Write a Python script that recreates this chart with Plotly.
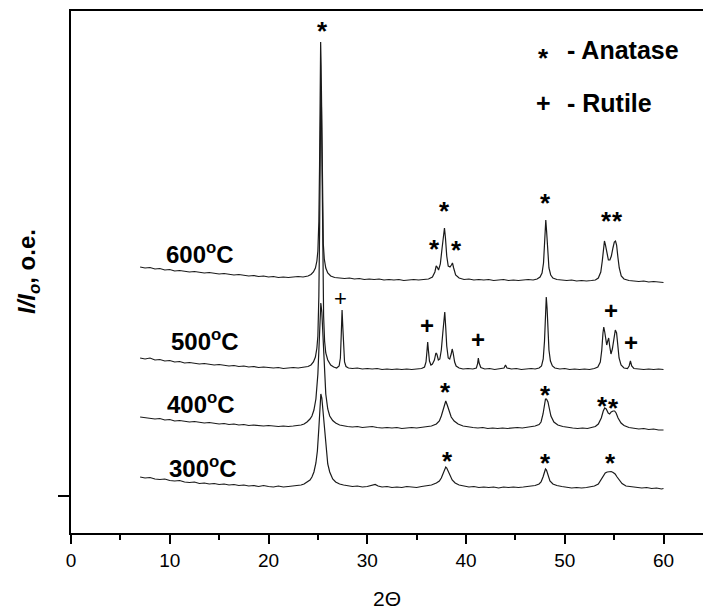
import plotly.graph_objects as go

# ---- data: (2Theta, intensity offset, arbitrary units) ----
pts300 = [(7.0,19),(7.5,18),(8.0,18.5),(8.5,17),(9.0,16.5),(9.5,17),(10.0,15.5),(10.5,15),(11.0,15.5),(11.5,14),(12.0,13.5),(12.5,14),(13.0,12.5),(13.5,13),(14.0,12),(14.5,12.5),(15.0,11.5),(15.5,12),(16.0,11),(16.5,11.5),(17.0,10.5),(17.5,11),(18.0,10),(18.5,10.5),(19.0,9.5),(19.5,10.5),(20.0,9.5),(20.5,9),(21.0,10),(21.5,9),(22.0,9.5),(22.5,10),(23.0,10.5),(23.3,11),(23.6,12),(23.9,14),(24.2,16),(24.4,19),(24.6,24),(24.8,33),(24.95,45),(25.1,68),(25.2,88),(25.3,102),(25.4,98),(25.5,87),(25.6,73),(25.8,48),(26.0,32),(26.2,24),(26.5,17),(26.8,14),(27.2,12),(27.6,11),(28.0,10.5),(28.5,9.5),(29.0,10),(29.5,9),(30.0,9.5),(30.5,10.5),(30.8,11.5),(31.1,10),(31.5,9),(32.0,9.5),(32.5,8.5),(33.0,9),(33.5,8.5),(34.0,9.5),(34.5,9),(35.0,8.5),(35.5,9.5),(36.0,10),(36.5,11),(37.0,13),(37.3,15),(37.5,18),(37.7,23),(37.85,27),(37.95,29),(38.05,28),(38.2,25),(38.4,20),(38.6,16),(38.9,13),(39.3,11),(39.8,10),(40.3,9),(40.8,9.5),(41.3,8.5),(41.8,9),(42.3,8.5),(42.8,9),(43.3,8),(43.8,9),(44.3,8.5),(44.8,9),(45.3,8.5),(45.8,9),(46.3,9.5),(46.7,10),(47.0,10.5),(47.4,12),(47.6,14),(47.8,19),(47.95,25),(48.05,27),(48.15,26),(48.3,21),(48.5,15),(48.8,12),(49.2,10.5),(49.7,9.5),(50.2,9),(50.7,8),(51.2,8.5),(51.7,8),(52.2,8.5),(52.7,9),(53.0,10),(53.4,12),(53.7,16.5),(53.9,20.5),(54.1,23),(54.3,24),(54.5,24),(54.7,24.5),(54.9,23.5),(55.1,22),(55.3,19),(55.5,16),(55.8,12.5),(56.2,10),(56.8,9),(57.3,8.5),(57.8,8),(58.3,8.5),(58.8,7.5),(59.3,8),(59.8,7),(60.0,7.5)]

pts400 = [(7.0,79),(7.5,78.5),(8.0,78),(8.5,77),(9.0,77.5),(9.5,76),(10.0,76.5),(10.5,75),(11.0,75.5),(11.5,74.5),(12.0,74),(12.5,74.5),(13.0,73.5),(13.5,73),(14.0,73.5),(14.5,72.5),(15.0,72),(15.5,72.5),(16.0,71.5),(16.5,72),(17.0,71),(17.5,71.5),(18.0,70.5),(18.5,71),(19.0,70.5),(19.5,70),(20.0,70.5),(20.5,70),(21.0,69.5),(21.5,70),(22.0,69.5),(22.5,70),(23.0,70.5),(23.3,71),(23.6,72),(23.9,74),(24.2,77),(24.4,80),(24.6,86),(24.8,97),(25.0,122),(25.1,148),(25.2,178),(25.3,193),(25.4,184),(25.5,160),(25.6,134),(25.8,102),(26.0,87),(26.2,80),(26.5,75.5),(26.8,73),(27.2,71),(27.6,70),(28.0,69.5),(28.5,69),(29.0,69.5),(29.5,68.5),(30.0,69),(30.5,69.5),(31.0,68.5),(31.5,68),(32.0,68.5),(32.5,68),(33.0,68.5),(33.5,67.5),(34.0,68),(34.5,68.5),(35.0,68),(35.5,68.5),(36.0,69),(36.5,70),(37.0,72),(37.3,75),(37.5,80),(37.7,88),(37.85,94),(37.95,95),(38.1,91),(38.3,84),(38.5,79),(38.8,75),(39.2,72),(39.7,70),(40.2,69),(40.7,68.5),(41.2,68),(41.7,68.5),(42.2,67.5),(42.7,68),(43.2,67.5),(43.7,68),(44.2,67.5),(44.7,68),(45.2,68.5),(45.7,68),(46.2,68.5),(46.6,69),(47.0,70),(47.4,71.5),(47.6,74),(47.8,82),(47.95,93),(48.05,97),(48.15,97),(48.3,94),(48.45,87),(48.6,80),(48.9,74),(49.3,71),(49.8,69.5),(50.3,68.5),(50.8,68),(51.3,67.5),(51.8,68),(52.3,67.5),(52.8,68.5),(53.1,69.5),(53.4,72),(53.7,78),(53.9,85),(54.05,88),(54.2,87),(54.4,83),(54.55,82),(54.7,84),(54.9,85),(55.05,85),(55.2,83),(55.4,78),(55.7,73),(56.0,70.5),(56.5,68.5),(57.0,67.5),(57.5,67),(58.0,67.5),(58.5,66.5),(59.0,67),(59.5,66),(60.0,66)]

pts500 = [(7.0,138),(7.5,137),(8.0,138),(8.5,136),(9.0,136.5),(9.5,135),(10.0,135.5),(10.5,134),(11.0,134.5),(11.5,133),(12.0,133.5),(12.5,132.5),(13.0,132),(13.5,132.5),(14.0,131.5),(14.5,131),(15.0,131.5),(15.5,130.5),(16.0,130),(16.5,130.5),(17.0,129.5),(17.5,130),(18.0,129),(18.5,129.5),(19.0,128.5),(19.5,129),(20.0,128.5),(20.5,128),(21.0,128.5),(21.5,127.5),(22.0,128),(22.5,128.5),(23.0,128),(23.5,128.5),(24.0,129.5),(24.3,131),(24.55,134),(24.75,139),(24.9,148),(25.0,160),(25.1,200),(25.18,270),(25.24,360),(25.3,410),(25.36,390),(25.43,310),(25.5,230),(25.58,180),(25.68,155),(25.8,143),(26.0,136),(26.3,131),(26.6,129),(26.9,128),(27.15,130),(27.28,138),(27.37,162),(27.45,186),(27.52,170),(27.6,146),(27.7,134),(27.85,129.5),(28.1,128),(28.5,127.5),(29.0,128),(29.5,127),(30.0,127.5),(30.5,127),(31.0,127.5),(31.5,126.5),(32.0,127),(32.5,126.5),(33.0,127),(33.5,126.5),(34.0,127),(34.5,126.5),(35.0,127),(35.5,127.5),(35.8,129),(35.95,134),(36.05,145),(36.12,154),(36.2,145),(36.3,135),(36.45,131),(36.6,132),(36.8,136),(36.95,143),(37.05,142),(37.2,136),(37.35,137),(37.5,146),(37.65,163),(37.78,182),(37.85,184),(37.95,168),(38.05,150),(38.2,138),(38.35,137),(38.5,142),(38.6,147),(38.7,143),(38.85,134),(39.0,130),(39.3,128),(39.7,127),(40.2,127.5),(40.7,127),(41.05,128),(41.17,132),(41.25,138),(41.33,133),(41.5,128.5),(41.9,127),(42.4,127.5),(42.9,126.5),(43.4,127),(43.85,128),(44.0,131),(44.15,128),(44.6,127),(45.1,127.5),(45.6,126.5),(46.1,127),(46.6,127.5),(47.0,127),(47.4,128),(47.65,130),(47.82,137),(47.95,155),(48.05,185),(48.13,199),(48.21,188),(48.3,165),(48.4,146),(48.55,135),(48.75,130),(49.0,128),(49.5,127),(50.0,127.5),(50.5,126.5),(51.0,127),(51.5,126.5),(52.0,127),(52.5,126.5),(53.0,127.5),(53.35,129),(53.6,134),(53.75,146),(53.87,163),(53.95,169),(54.05,164),(54.15,156),(54.25,151),(54.35,155),(54.45,158),(54.55,150),(54.68,142),(54.82,147),(54.97,159),(55.12,166),(55.25,163),(55.36,151),(55.5,138),(55.7,131),(56.0,128),(56.35,127.5),(56.52,130),(56.65,135),(56.78,130),(57.0,127.5),(57.5,127),(58.0,126.5),(58.5,127),(59.0,126.5),(59.5,127),(60.0,126.5)]

pts600 = [(7.0,229),(7.5,228),(8.0,228.5),(8.5,227),(9.0,227.5),(9.5,226),(10.0,226.5),(10.5,225),(11.0,225.5),(11.5,224.5),(12.0,224),(12.5,224.5),(13.0,223.5),(13.5,223),(14.0,223.5),(14.5,222.5),(15.0,222),(15.5,222.5),(16.0,221.5),(16.5,221),(17.0,221.5),(17.5,220.5),(18.0,220),(18.5,220.5),(19.0,219.5),(19.5,220),(20.0,219),(20.5,219.5),(21.0,218.5),(21.5,219),(22.0,218.5),(22.5,219),(23.0,219.5),(23.5,219),(24.0,220),(24.3,221.5),(24.55,224),(24.75,228),(24.9,235),(25.0,245),(25.1,275),(25.17,330),(25.23,410),(25.28,454),(25.33,430),(25.4,350),(25.47,285),(25.55,252),(25.65,237),(25.8,228),(26.0,223),(26.3,220),(26.7,218.5),(27.2,218),(27.7,217.5),(28.2,218),(28.7,217),(29.2,217.5),(29.7,216.5),(30.2,217),(30.7,216.5),(31.2,217),(31.7,216),(32.2,216.5),(32.7,216),(33.2,216.5),(33.7,215.5),(34.2,216),(34.7,216.5),(35.2,216),(35.7,216.5),(36.2,217),(36.6,219),(36.85,224),(36.98,230),(37.08,229),(37.22,226),(37.4,232),(37.58,248),(37.72,263),(37.82,268),(37.92,258),(38.05,240),(38.2,230),(38.38,229),(38.52,231),(38.63,233),(38.75,228),(38.95,221),(39.3,218),(39.8,216.5),(40.3,217),(40.8,216),(41.3,216.5),(41.8,216),(42.3,216.5),(42.8,215.5),(43.3,216),(43.8,216.5),(44.3,215.5),(44.8,216),(45.3,215.5),(45.8,216),(46.3,216.5),(46.8,216),(47.2,217),(47.5,219),(47.7,223),(47.85,233),(47.95,254),(48.03,272),(48.08,276),(48.16,265),(48.27,243),(48.4,228),(48.58,221),(48.8,218),(49.2,216.5),(49.7,216),(50.2,215.5),(50.7,216),(51.2,215),(51.7,215.5),(52.2,215),(52.7,215.5),(53.1,216),(53.4,218),(53.65,224),(53.8,235),(53.92,250),(54.02,255),(54.12,251),(54.27,241),(54.42,236),(54.57,236),(54.72,240),(54.88,248),(55.02,254),(55.14,255),(55.25,251),(55.38,239),(55.52,228),(55.72,220),(56.0,217),(56.5,215.5),(57.0,215),(57.5,214.5),(58.0,215),(58.5,214),(59.0,214.5),(59.5,214),(60.0,213.5)]

series_names = ["300°C", "400°C", "500°C", "600°C"]
series_pts = [pts300, pts400, pts500, pts600]

# temperature labels (text, x, y)
temp_labels = [("300<sup>o</sup>C", 13.37, 29), ("400<sup>o</sup>C", 13.16, 93),
               ("500<sup>o</sup>C", 13.57, 156), ("600<sup>o</sup>C", 13.06, 243)]

# phase markers
anatase_marks = [(25.42, 473), (36.76, 255), (37.87, 293), (38.99, 254), (48.10, 301), (54.18, 283), (55.39, 283),
                 (37.97, 112), (48.0, 109), (53.87, 98), (54.89, 96),
                 (38.08, 43), (48.1, 41), (54.68, 41)]
rutile_marks = [(36.05, 171), (41.22, 157), (54.68, 186), (56.71, 154)]
rutile_thin = [(27.34, 198)]

x_ticks = [0, 10, 20, 30, 40, 50, 60]

FONT = "Arial, Liberation Sans, sans-serif"
STAR_SIZE = 26
STAR_SHIFT = -8

fig = go.Figure()
for name, pts in zip(series_names, series_pts):
    xs = [p[0] for p in pts]
    ys = [p[1] for p in pts]
    fig.add_trace(go.Scatter(x=xs, y=ys, mode="lines", name=name,
                             line=dict(color="#1a1a1a", width=1.2), showlegend=False))

ann = []
for txt, x, y in temp_labels:
    ann.append(dict(x=x, y=y, text="<b>" + txt + "</b>", showarrow=False,
                    font=dict(family=FONT, size=24, color="black"), xanchor="center", yanchor="middle"))
for x, y in anatase_marks:
    ann.append(dict(x=x, y=y, text="<b>*</b>", showarrow=False, yshift=STAR_SHIFT,
                    font=dict(family=FONT, size=STAR_SIZE, color="black"), xanchor="center", yanchor="middle"))
for x, y in rutile_marks:
    ann.append(dict(x=x, y=y, text="<b>+</b>", showarrow=False,
                    font=dict(family=FONT, size=24, color="black"), xanchor="center", yanchor="middle"))
for x, y in rutile_thin:
    ann.append(dict(x=x, y=y, text="+", showarrow=False,
                    font=dict(family=FONT, size=22, color="black"), xanchor="center", yanchor="middle"))

# legend-like annotations
ann.append(dict(x=47.8, y=446, text="<b>*</b>", showarrow=False, yshift=STAR_SHIFT,
                font=dict(family=FONT, size=STAR_SIZE, color="black"), xanchor="center", yanchor="middle"))
ann.append(dict(x=50.03, y=446, text="<b>- Anatase</b>", showarrow=False,
                font=dict(family=FONT, size=25, color="black"), xanchor="left", yanchor="middle"))
ann.append(dict(x=47.8, y=393, text="<b>+</b>", showarrow=False,
                font=dict(family=FONT, size=25, color="black"), xanchor="center", yanchor="middle"))
ann.append(dict(x=50.03, y=393, text="<b>- Rutile</b>", showarrow=False,
                font=dict(family=FONT, size=25, color="black"), xanchor="left", yanchor="middle"))

# axis titles
ann.append(dict(x=0.5, y=-0.126, xref="paper", yref="paper", text="2Θ", showarrow=False,
                font=dict(family=FONT, size=21, color="black"), xanchor="center", yanchor="middle"))
ann.append(dict(x=-0.068, y=0.5, xref="paper", yref="paper",
                text="<b><i>I/I</i><sub><i>o</i></sub>, o.e.</b>", textangle=-90, showarrow=False,
                font=dict(family=FONT, size=24, color="black"), xanchor="center", yanchor="middle"))

fig.update_layout(
    width=703, height=609,
    margin=dict(l=71, r=0, t=11, b=76),
    paper_bgcolor="white", plot_bgcolor="white",
    font=dict(family=FONT, color="black"),
    annotations=ann,
    xaxis=dict(range=[0, 64], showgrid=False, zeroline=False,
               showline=True, linecolor="black", linewidth=2, mirror=True,
               tickmode="array", tickvals=x_ticks, ticks="outside", ticklen=9, tickwidth=2,
               tickcolor="black", tickfont=dict(family=FONT, size=19, color="black"),
               minor=dict(dtick=5, ticks="outside", ticklen=5, tickwidth=2, tickcolor="black")),
    yaxis=dict(range=[-37, 485], showgrid=False, zeroline=False,
               showline=True, linecolor="black", linewidth=2,
               tickmode="array", tickvals=[0], ticktext=[""], ticks="outside", ticklen=11,
               tickwidth=1.5, tickcolor="black", showticklabels=False),
)

fig.write_html("out.html")
